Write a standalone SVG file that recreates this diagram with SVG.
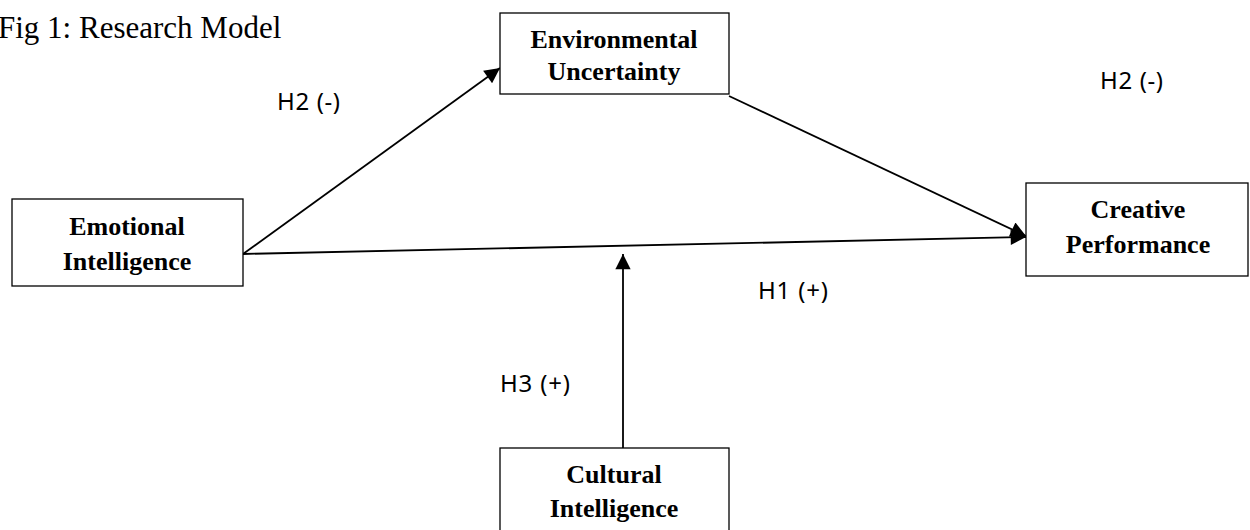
<svg xmlns="http://www.w3.org/2000/svg" width="1250" height="530" viewBox="0 0 1250 530">
<style>
.box{fill:#fff;stroke:#000;stroke-width:1.3}
.bt{font-family:"Liberation Serif",serif;font-weight:bold;font-size:26px;text-anchor:middle;fill:#000}
.lbl{font-family:"Noto Sans","Open Sans",sans-serif;font-size:24px;fill:#000}
.title{font-family:"Liberation Serif",serif;font-size:31px;fill:#000}
.conn{stroke:#000;stroke-width:1.8;fill:none;marker-end:url(#ah)}
</style>
<defs>
<marker id="ah" viewBox="0 0 10 10" refX="10" refY="5" markerWidth="10" markerHeight="8.5" markerUnits="strokeWidth" orient="auto">
<path d="M0,0 L10,5 L0,10 z" fill="#000"/>
</marker>
</defs>
<rect width="1250" height="530" fill="#fff"/>
<text class="title" x="-2" y="38">Fig 1: Research Model</text>
<g id="connectors">
<line class="conn" x1="243" y1="254" x2="500" y2="68"/>
<line class="conn" x1="729" y1="96" x2="1026" y2="236"/>
<line class="conn" x1="243" y1="254" x2="1026" y2="237"/>
<line class="conn" x1="623" y1="448" x2="623" y2="254"/>
</g>
<g id="environmental-uncertainty">
<rect class="box" x="500" y="13" width="229" height="81"/>
<text class="bt" x="614" y="48">Environmental</text>
<text class="bt" x="614" y="80">Uncertainty</text>
</g>
<g id="emotional-intelligence">
<rect class="box" x="12" y="199" width="231" height="87"/>
<text class="bt" x="127" y="235">Emotional</text>
<text class="bt" x="127" y="270">Intelligence</text>
</g>
<g id="creative-performance">
<rect class="box" x="1026" y="183" width="222" height="93"/>
<text class="bt" x="1138" y="218">Creative</text>
<text class="bt" x="1138" y="253">Performance</text>
</g>
<g id="cultural-intelligence">
<rect class="box" x="500" y="448" width="229" height="90"/>
<text class="bt" x="614" y="483">Cultural</text>
<text class="bt" x="614" y="517">Intelligence</text>
</g>
<g id="labels">
<text class="lbl" x="277" y="110" textLength="63" lengthAdjust="spacing">H2 (-)</text>
<text class="lbl" x="1100" y="89" textLength="63" lengthAdjust="spacing">H2 (-)</text>
<text class="lbl" x="758" y="299" textLength="70" lengthAdjust="spacing">H1 (+)</text>
<text class="lbl" x="500" y="392" textLength="70" lengthAdjust="spacing">H3 (+)</text>
</g>
</svg>
